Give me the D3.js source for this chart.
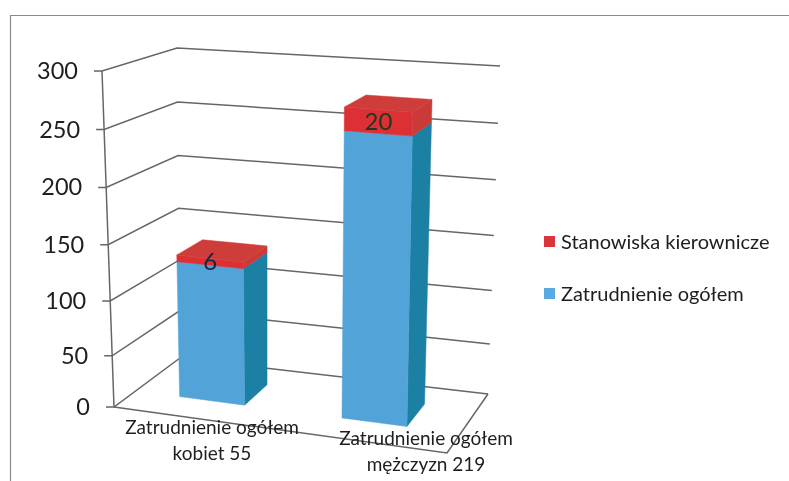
<!DOCTYPE html>
<html>
<head>
<meta charset="utf-8">
<script src="https://cdn.jsdelivr.net/npm/d3@7"></script>
<style>
  html, body { margin: 0; background: #fff; }
  svg { display: block; filter: blur(0.4px); }
  text { font-family: Lato, "Noto Sans", sans-serif; fill: #1d1d22; }
</style>
</head>
<body>
<svg width="789" height="481"></svg>
<script>
const categories = ["kobiet", "mezczyzn"];
const categoryLabels = [
  ["Zatrudnienie ogółem", "kobiet 55"],
  ["Zatrudnienie ogółem", "mężczyzn 219"],
];
const seriesNames = ["Zatrudnienie ogółem", "Stanowiska kierownicze"];
const zatrudnienie = [128, 256];
const kierownicze = [6, 20];
const kierowniczeLabels = ["6", "20"];
const axisTicks = [0, 50, 100, 150, 200, 250, 300];

const svg = d3.select("svg");

// corners of the 3d box as they land on the page
const box = {
  fl: { x: [114, 102], y: [407, 71] },
  fr: { x: [447, 455], y: [453, 98] },
  bl: { x: [180, 177], y: [358, 48] },
  br: { x: [488, 500], y: [394, 66] },
};

const vScale = d3.scalePow().exponent(1.05).domain([0, 300]).range([0, 1]);
const uScale = d3
  .scaleBand()
  .domain(categories)
  .range([-0.015, 0.985])
  .paddingInner(0.6)
  .paddingOuter(0.3);
const depthFront = 0.33,
  depthBack = 0.72;

// u along the floor, w into the chart, value up
function project(u, w, value) {
  const t = vScale(value);
  const at = (k) => {
    const c = (p) => p[k][0] + (p[k][1] - p[k][0]) * t;
    const front = c(box.fl) + (c(box.fr) - c(box.fl)) * u;
    const back = c(box.bl) + (c(box.br) - c(box.bl)) * u;
    return front + (back - front) * w;
  };
  return [at("x"), at("y")];
}

const line = d3.line();

function face(g, pts, fill) {
  g.append("path")
    .attr("d", line(pts) + "Z")
    .attr("fill", fill)
    .attr("stroke", fill)
    .attr("stroke-width", 0.5);
}

svg
  .append("path")
  .attr("d", "M10.5,481V15.5H789")
  .attr("fill", "none")
  .attr("stroke", "#8a8a8a")
  .attr("stroke-width", 1.2);

// walls and floor
const grid = svg
  .append("g")
  .attr("fill", "none")
  .attr("stroke", "#666")
  .attr("stroke-width", 1.5);

axisTicks.forEach((t) => {
  const p = project(0, 0, t);
  grid
    .append("path")
    .attr("d", line([[p[0] - 8, p[1]], p, project(0, 1, t), project(1, 1, t)]));
});

grid.append("path").attr("d", line([project(0, 0, 0), project(0, 0, 300)]));
grid
  .append("path")
  .attr("d", line([project(0, 0, 0), project(1, 0, 0), project(1, 1, 0)]));

svg
  .append("g")
  .attr("text-anchor", "end")
  .style("font-size", "23.5px")
  .selectAll("text")
  .data(axisTicks)
  .join("text")
  .attr("x", (d) => project(0, 0, d)[0] - 24)
  .attr("y", (d) => project(0, 0, d)[1] + 8)
  .text((d) => d);

// bars
const stack = d3.stack().keys([0, 1]).value((d, k) => d[k]);
const stacked = stack(zatrudnienie.map((v, i) => [v, kierownicze[i]]));
const faceColors = [
  { front: "#52a3d8", side: "#1c7fa4", top: "#52a3d8" },
  { front: "#dd3034", side: "#c93a38", top: "#cf3d3b" },
];

categories.forEach((c, i) => {
  const u0 = uScale(c),
    u1 = u0 + uScale.bandwidth();
  const g = svg.append("g");
  stacked.forEach((layer, s) => {
    const [v0, v1] = layer[i];
    const col = faceColors[s];
    face(
      g,
      [
        project(u1, depthFront, v0),
        project(u1, depthBack, v0),
        project(u1, depthBack, v1),
        project(u1, depthFront, v1),
      ],
      col.side
    );
    face(
      g,
      [
        project(u0, depthFront, v0),
        project(u1, depthFront, v0),
        project(u1, depthFront, v1),
        project(u0, depthFront, v1),
      ],
      col.front
    );
    if (s === stacked.length - 1) {
      face(
        g,
        [
          project(u0, depthFront, v1),
          project(u1, depthFront, v1),
          project(u1, depthBack, v1),
          project(u0, depthBack, v1),
        ],
        col.top
      );
    }
  });
  const mid = (u0 + u1) / 2;
  const lp = project(mid, depthFront, zatrudnienie[i] + kierownicze[i] / 2);
  svg
    .append("text")
    .attr("x", lp[0])
    .attr("y", lp[1] + 8)
    .attr("text-anchor", "middle")
    .style("font-size", "24px")
    .style("fill", i === 0 ? "#17263f" : "#24361f")
    .text(kierowniczeLabels[i]);
});

// category labels
const labelX = [212, 426],
  labelY = [434, 445];
categoryLabels.forEach((lines, i) => {
  lines.forEach((l, j) => {
    svg
      .append("text")
      .attr("x", labelX[i])
      .attr("y", labelY[i] + j * 26)
      .attr("text-anchor", "middle")
      .style("font-size", "19px")
      .text(l);
  });
});

// legend, red on top
const legendY = [242, 294];
[1, 0].forEach((s, i) => {
  svg
    .append("rect")
    .attr("x", 544)
    .attr("y", legendY[i] - 6)
    .attr("width", 11)
    .attr("height", 11)
    .attr("fill", s === 1 ? "#d9353a" : "#5aa9e0");
  svg
    .append("text")
    .attr("x", 561)
    .attr("y", legendY[i] + 7)
    .style("font-size", "20px")
    .text(seriesNames[s]);
});
</script>
</body>
</html>
